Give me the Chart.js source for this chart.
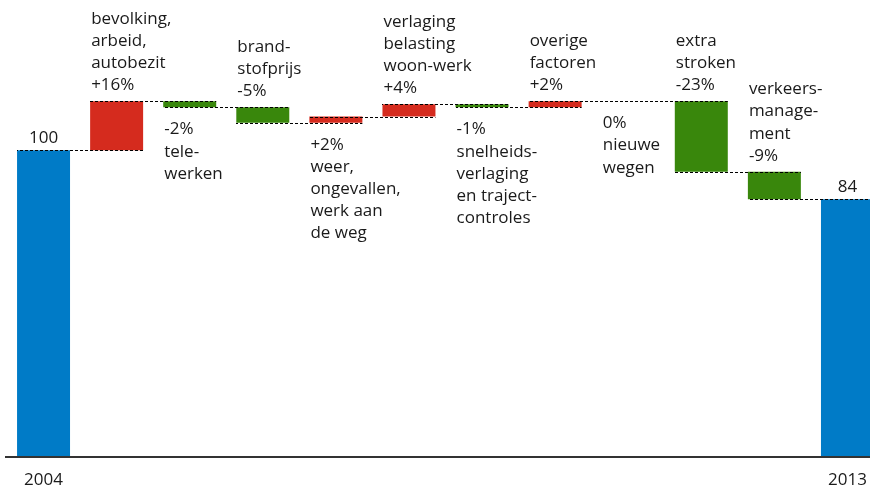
<!DOCTYPE html>
<html lang="nl">
<head>
    <meta charset="UTF-8">
    <title>Verkeersontwikkeling 2004-2013</title>
    <script src="https://cdn.jsdelivr.net/npm/chart.js"></script>
    <style>
        html, body {
            margin: 0;
            padding: 0;
            background: #fff;
            overflow: hidden;
        }
        .chart-container {
            position: relative;
            width: 884px;  /* laatste balk loopt net buiten beeld */
            height: 488px;
        }
    </style>
</head>
<body>
    <div class="chart-container">
        <canvas id="waterfallChart"></canvas>
    </div>

    <script>
        // Gegevens
        const tickLabels = ['2004', '', '', '', '', '', '', '', '', '', '', '2013'];
        const startValue = 100;
        const changes = [16, -2, -5, 2, 4, -1, 2, 0, -23, -9];
        const endValue = 84;
        const annotations = [
            ['100'],
            ['bevolking,', 'arbeid,', 'autobezit', '+16%'],
            ['-2%', 'tele-', 'werken'],
            ['brand-', 'stofprijs', '-5%'],
            ['+2%', 'weer,', 'ongevallen,', 'werk aan', 'de weg'],
            ['verlaging', 'belasting', 'woon-werk', '+4%'],
            ['-1%', 'snelheids-', 'verlaging', 'en traject-', 'controles'],
            ['overige', 'factoren', '+2%'],
            ['0%', 'nieuwe', 'wegen'],
            ['extra', 'stroken', '-23%'],
            ['verkeers-', 'manage-', 'ment', '-9%'],
            ['84']
        ];

        const BLUE = '#007bc7';
        const RED = '#d52b1e';
        const GREEN = '#39870c';
        const TEXT = '#1a1a1a';
        const FONT = "'Open Sans', sans-serif";

        // zwevende balken opbouwen: [van, tot]
        const ranges = [[0, startValue]];
        const levels = [startValue];
        let running = startValue;
        changes.forEach(c => {
            ranges.push([running, running + c]);
            running += c;
            levels.push(running);
        });
        ranges.push([0, endValue]);
        levels.push(endValue);

        const colors = ranges.map((r, i) => {
            if (i === 0 || i === ranges.length - 1) return BLUE;
            return r[1] >= r[0] ? RED : GREEN;
        });

        // tekst boven of onder de balk
        const labelSide = ['up', 'up', 'down', 'up', 'down', 'up', 'down', 'up', 'down', 'up', 'up', 'up'];

        const waterfallDecor = {
            id: 'waterfallDecor',
            afterDatasetsDraw(chart) {
                const ctx = chart.ctx;
                const meta = chart.getDatasetMeta(0);
                const y = chart.scales.y;
                const area = chart.chartArea;

                // stippellijnen tussen de balken (patroon vast op x, zodat overlap niet dicht loopt)
                ctx.save();
                ctx.strokeStyle = '#000';
                ctx.lineWidth = 1;
                ctx.setLineDash([3, 2]);
                for (let k = 0; k < meta.data.length - 1; k++) {
                    const a = meta.data[k];
                    const b = meta.data[k + 1];
                    const x0 = Math.round(a.x - a.width / 2);
                    const x1 = b.x + b.width / 2;
                    const py = Math.round(y.getPixelForValue(levels[k])) + 0.5;
                    ctx.lineDashOffset = x0 % 5;
                    ctx.beginPath();
                    ctx.moveTo(x0, py);
                    ctx.lineTo(x1, py);
                    ctx.stroke();
                }
                ctx.restore();

                // x-as
                ctx.save();
                ctx.strokeStyle = '#333';
                ctx.lineWidth = 2;
                ctx.beginPath();
                ctx.moveTo(5, area.bottom);
                ctx.lineTo(area.right, area.bottom);
                ctx.stroke();
                ctx.restore();

                // teksten
                ctx.save();
                ctx.font = '17px ' + FONT;
                ctx.fillStyle = TEXT;
                ctx.textBaseline = 'alphabetic';
                const lh = 22.2;
                meta.data.forEach((bar, i) => {
                    const lines = annotations[i];
                    const isTotal = (i === 0 || i === meta.data.length - 1);
                    const top = y.getPixelForValue(Math.max(ranges[i][0], ranges[i][1]));
                    const bottom = y.getPixelForValue(Math.min(ranges[i][0], ranges[i][1]));
                    let x, firstBase;
                    if (isTotal) {
                        ctx.textAlign = 'center';
                        x = bar.x;
                    } else {
                        ctx.textAlign = 'left';
                        x = bar.x - bar.width / 2 + 1;
                    }
                    if (labelSide[i] === 'up') {
                        const lastBase = top - (isTotal ? 7 : 11);
                        firstBase = lastBase - (lines.length - 1) * lh;
                    } else {
                        firstBase = bottom + 27;
                    }
                    lines.forEach((t, j) => ctx.fillText(t, x, firstBase + j * lh));

                    // jaartallen onder de as
                    if (tickLabels[i]) {
                        ctx.textAlign = 'center';
                        ctx.fillText(tickLabels[i], bar.x, area.bottom + 28);
                    }
                });
                ctx.restore();
            }
        };

        const ctx = document.getElementById('waterfallChart').getContext('2d');
        new Chart(ctx, {
            type: 'bar',
            data: {
                labels: tickLabels,
                datasets: [{
                    data: ranges,
                    backgroundColor: colors,
                    borderWidth: 0,
                    barPercentage: 0.725,
                    categoryPercentage: 1.0
                }]
            },
            options: {
                responsive: true,
                maintainAspectRatio: false,
                animation: false,
                layout: {
                    padding: { left: 7, right: 0, top: 0, bottom: 31 }
                },
                plugins: {
                    legend: { display: false },
                    tooltip: { enabled: false }
                },
                scales: {
                    x: {
                        grid: { display: false, drawTicks: false },
                        border: { display: false },
                        ticks: { display: false }
                    },
                    y: {
                        display: false,
                        min: 0,
                        max: 149
                    }
                }
            },
            plugins: [waterfallDecor]
        });
    </script>
</body>
</html>
